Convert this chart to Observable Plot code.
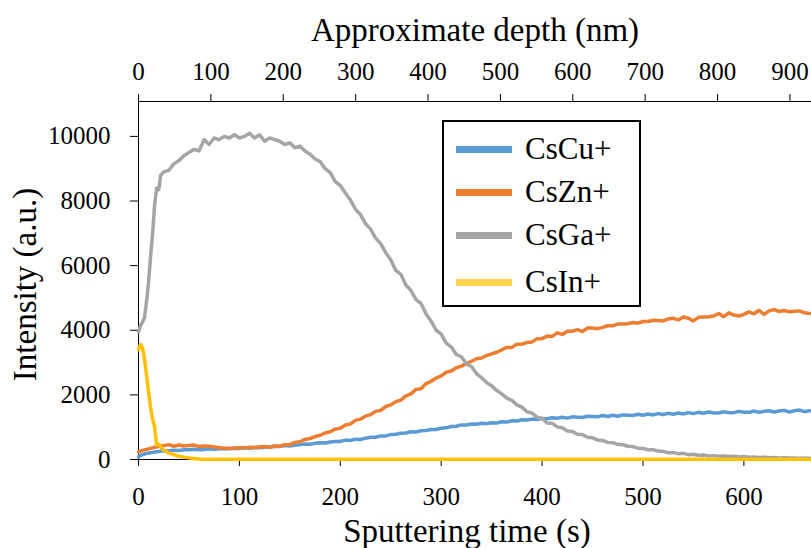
<!DOCTYPE html>
<html><head><meta charset="utf-8">
<script src="https://cdn.jsdelivr.net/npm/d3@7"></script>
<script src="https://cdn.jsdelivr.net/npm/@observablehq/plot@0.6"></script>
<style>
body{margin:0;background:#fff;}
#wrap{position:relative;width:811px;height:548px;font-family:"Liberation Serif","DejaVu Serif",Tinos,serif;overflow:hidden;}
#wrap svg, #wrap svg text{font-family:"Liberation Serif","DejaVu Serif",Tinos,serif !important;}
.legend{position:absolute;left:442px;top:120px;width:199px;height:187px;border:2px solid #000;background:#fff;box-sizing:border-box;}
.row{position:absolute;left:0;height:40px;display:flex;align-items:center;}
.sw{width:56px;height:7px;margin-left:12px;}
.lab{font-size:31px;margin-left:13px;color:#000;font-family:"Liberation Serif","DejaVu Serif",Tinos,serif;}
</style></head>
<body><div id="wrap"></div>
<script>
const names = ["CsCu+", "CsZn+", "CsGa+", "CsIn+"];
const colors = ["#5B9BD5", "#ED7D31", "#A5A5A5", "#FFC000"];
const legendColors = ["#5B9BD5", "#ED7D31", "#A5A5A5", "#FFD54F"];

const time = [0,2,4,6,8,10,12,14,16,18,20,22,25,
 30,35,40,45,50,55,60,65,70,75,
 80,85,90,95,100,105,110,115,120,125,
 130,135,140,145,150,155,160,165,170,175,
 180,185,190,195,200,205,210,215,220,225,
 230,235,240,245,250,255,260,265,270,275,
 280,285,290,295,300,305,310,315,320,325,
 330,335,340,345,350,355,360,365,370,375,
 380,385,390,395,400,405,410,415,420,425,
 430,435,440,445,450,455,460,465,470,475,
 480,485,490,495,500,505,510,515,520,525,
 530,535,540,545,550,555,560,565,570,575,
 580,585,590,595,600,605,610,615,620,625,
 630,635,640,645,650,655,660,665];

const csCu = [80,120,150,170,190,200,210,220,230,240,250,260,260,
 270,290,280,300,300,320,300,310,330,320,
 330,340,330,350,340,360,350,370,360,380,
 390,410,400,430,420,450,460,480,470,500,
 520,510,540,560,560,600,590,630,620,660,
 690,690,730,730,770,780,810,820,860,850,
 890,900,930,930,970,980,1020,1030,1070,1070,
 1100,1090,1120,1110,1140,1130,1170,1160,1200,1190,
 1230,1220,1250,1240,1270,1260,1290,1280,1310,1280,
 1320,1310,1300,1340,1330,1320,1360,1330,1370,1340,
 1380,1370,1360,1400,1370,1410,1380,1420,1390,1430,
 1400,1440,1410,1450,1420,1460,1430,1470,1440,1440,
 1480,1450,1450,1490,1460,1460,1500,1460,1490,1510,
 1470,1500,1520,1470,1510,1530,1480,1510];

const csZn = [230,260,280,300,310,330,350,360,380,390,400,420,430,
 460,410,450,420,430,450,400,420,410,390,
 370,340,350,350,360,360,380,370,390,400,
 380,420,410,460,460,530,550,620,650,710,
 750,820,860,940,970,1070,1100,1210,1250,1340,
 1390,1490,1520,1640,1690,1790,1840,1970,2030,2170,
 2190,2350,2420,2520,2590,2700,2740,2840,2890,2970,
 3040,3120,3140,3220,3270,3320,3390,3470,3470,3570,
 3570,3620,3640,3740,3740,3820,3810,3920,3870,3970,
 3970,4020,3960,4070,4070,4050,4090,4140,4140,4190,
 4190,4200,4240,4220,4270,4270,4310,4300,4290,4350,
 4370,4320,4410,4370,4290,4400,4410,4420,4440,4520,
 4420,4540,4470,4440,4490,4570,4510,4620,4490,4600,
 4640,4580,4610,4570,4590,4600,4540,4520];

const csGa = [3950,4150,4250,4400,4900,5500,6300,7000,7900,8400,8350,8800,8900,
 8950,9150,9250,9400,9500,9600,9550,9900,9750,9950,
 9900,10000,9950,10050,9950,10000,10100,9950,10050,9850,
 9950,9900,9850,9750,9800,9650,9700,9550,9450,9300,
 9220,9000,8880,8600,8480,8250,8030,7750,7580,7300,
 7130,6850,6680,6400,6180,5850,5730,5400,5230,4950,
 4830,4500,4280,4000,3880,3600,3480,3250,3180,2960,
 2880,2660,2530,2380,2280,2140,2030,1900,1830,1690,
 1620,1480,1440,1310,1270,1130,1120,1010,980,880,
 870,780,770,690,670,600,590,530,520,470,
 460,410,400,350,340,300,300,260,250,210,
 220,180,190,150,160,130,140,110,120,100,
 110,90,100,80,90,70,80,60,70,55,
 60,50,55,45,50,40,45,35];

const timeIn = [0,2,4,6,8,10,12,14,16,18,20,22,25,30,35,40,45,50,55,60,65,70,665];
const csIn = [3400,3560,3450,3100,2600,2100,1600,1250,1000,450,480,400,280,200,150,100,70,50,30,15,10,5,5];

const timeTicks = [0,100,200,300,400,500,600];
const depthTicks = [0,100,200,300,400,500,600,700,800,900];
const yTicks = [0,2000,4000,6000,8000,10000];
const nmPerSecond = 1.394;
const xMax = 667, yMax = 11080;
const serif = '"Liberation Serif","DejaVu Serif",Tinos,serif';

const data = [];
[[time, csCu], [time, csZn], [time, csGa], [timeIn, csIn]].forEach(([ts, vs], s) => {
  ts.forEach((t, i) => data.push({name: names[s], t, v: vs[i]}));
});

const chart = Plot.plot({
  width: 811, height: 548,
  marginTop: 101, marginBottom: 89, marginLeft: 138, marginRight: 0,
  x: {domain: [0, xMax]},
  y: {domain: [0, yMax]},
  color: {domain: names, range: colors},
  style: {fontFamily: serif, fontSize: "25px", color: "#000", background: "#fff"},
  marks: [
    Plot.axisX(timeTicks, {anchor: "bottom", tickSize: 7, tickPadding: 21, label: null, fontSize: 25, fontFamily: serif}),
    Plot.axisX(depthTicks.map(d => d / nmPerSecond), {anchor: "top", tickSize: 8, tickPadding: 14, label: null, fontSize: 25, fontFamily: serif, tickFormat: d => String(Math.round(d * nmPerSecond))}),
    Plot.axisY(yTicks, {anchor: "left", tickSize: 8, tickPadding: 20, label: null, fontSize: 25, fontFamily: serif, tickFormat: d => String(d)}),
    Plot.ruleX([0], {stroke: "#000"}),
    Plot.ruleY([0], {stroke: "#000"}),
    Plot.ruleY([yMax], {stroke: "#000"}),
    Plot.line(data, {x: "t", y: "v", z: "name", stroke: "name", strokeWidth: 3.5, curve: "linear"}),
    Plot.text(["Sputtering time (s)"], {frameAnchor: "bottom", dy: 82, dx: -8, fontSize: 33, fontFamily: serif}),
    Plot.text(["Approximate depth (nm)"], {frameAnchor: "top", dy: -84, fontSize: 33, fontFamily: serif}),
    Plot.text(["Intensity (a.u.)"], {frameAnchor: "left", dx: -113, dy: 4, rotate: -90, textAnchor: "middle", fontSize: 33, fontFamily: serif})
  ]
});
const wrap = document.getElementById("wrap");
wrap.appendChild(chart);

const legend = document.createElement("div");
legend.className = "legend";
const rowCenters = [29, 72, 115, 162];
names.forEach((n, i) => {
  const row = document.createElement("div");
  row.className = "row";
  row.style.top = (rowCenters[i] - 20 - 2) + "px";
  const sw = document.createElement("div");
  sw.className = "sw";
  sw.style.background = legendColors[i];
  const lab = document.createElement("span");
  lab.className = "lab";
  lab.textContent = n;
  row.appendChild(sw); row.appendChild(lab);
  legend.appendChild(row);
});
wrap.appendChild(legend);
</script>
</body></html>
